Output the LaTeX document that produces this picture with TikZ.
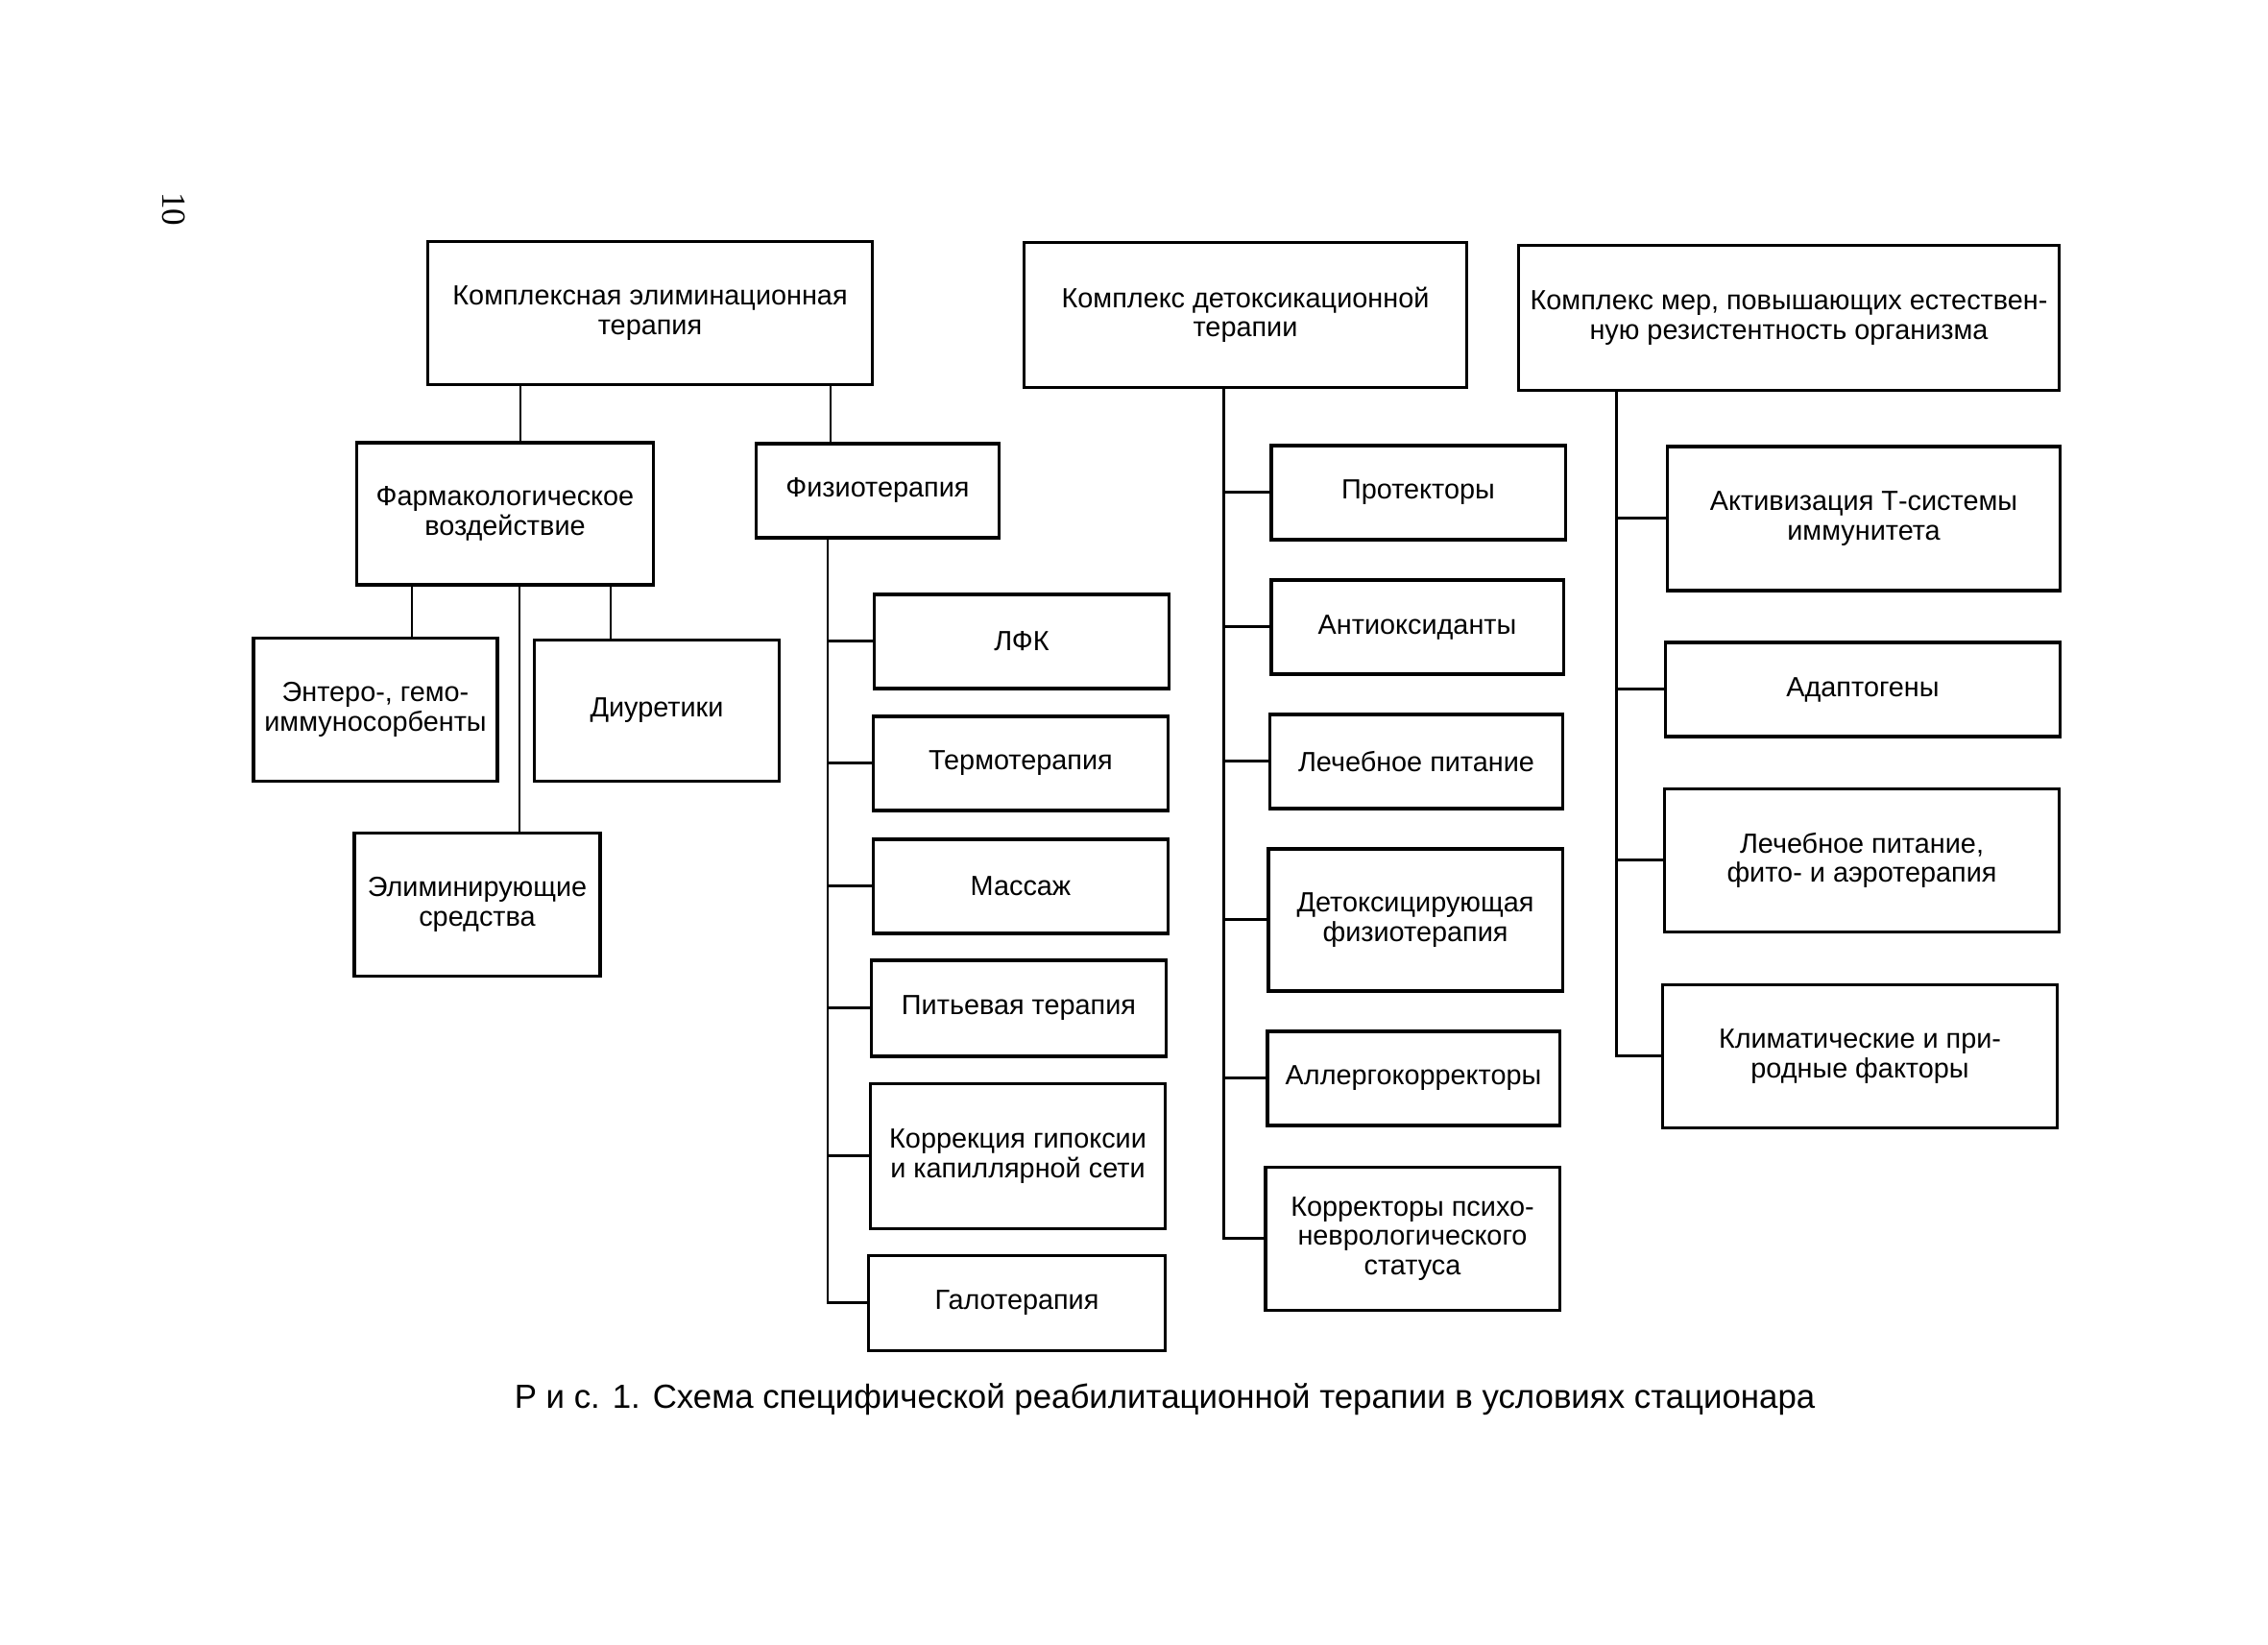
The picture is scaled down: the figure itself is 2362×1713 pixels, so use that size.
\documentclass[tikz,border=0pt]{standalone}
\usepackage{fontspec}
\setmainfont{Liberation Sans}
\newfontfamily\pagefont{Liberation Serif}
\tikzset{
  box/.style={draw, line width=0.9pt, align=center, inner sep=1pt, font=\fontsize{8.2}{8.7}\selectfont},
  low/.style={box, minimum height=0.98cm},
  high/.style={box, minimum height=1.49cm},
  link/.style={line width=0.85pt}
}
\begin{document}
\begin{tikzpicture}[x=0.01cm, y=-0.01cm]
\useasboundingbox (0,0) rectangle (2362,1713);
\node[rotate=-90, font=\pagefont\fontsize{10}{12}\selectfont] (page) at (181,218) {10};

\node[high, minimum width=4.62cm] (elim) at (677,326) {Комплексная элиминационная\\терапия};
\node[high, minimum width=4.60cm, minimum height=1.51cm] (detox) at (1297,328) {Комплекс детоксикационной\\терапии};
\node[high, minimum width=5.63cm, minimum height=1.51cm] (rez) at (1863,331) {Комплекс мер, повышающих естествен-\\ную резистентность организма};

\node[high, minimum width=3.09cm, minimum height=1.48cm] (farm) at (526,535) {Фармакологическое\\воздействие};
\node[low, minimum width=2.53cm] (fizio) at (914,511) {Физиотерапия};
\node[high, minimum width=2.54cm] (entero) at (391,739) {Энтеро-, гемо-\\иммуносорбенты};
\node[high, minimum width=2.55cm, minimum height=1.47cm] (diur) at (684,740) {Диуретики};
\node[high, minimum width=2.56cm] (elimsr) at (497,942) {Элиминирующие\\средства};

\node[low, minimum width=3.06cm] (lfk) at (1064,668) {ЛФК};
\node[low, minimum width=3.07cm] (termo) at (1063,795) {Термотерапия};
\node[low, minimum width=3.06cm] (massazh) at (1063,923) {Массаж};
\node[low, minimum width=3.06cm, minimum height=1.0cm] (pitye) at (1061,1050) {Питьевая терапия};
\node[high, minimum width=3.06cm, minimum height=1.51cm] (korr) at (1060,1204) {Коррекция гипоксии\\и капиллярной сети};
\node[low, minimum width=3.08cm, minimum height=0.99cm] (galo) at (1059,1357) {Галотерапия};

\node[low, minimum width=3.06cm] (prot) at (1477,513) {Протекторы};
\node[low, minimum width=3.04cm] (antiox) at (1476,653) {Антиоксиданты};
\node[low, minimum width=3.05cm] (pitan) at (1475,793) {Лечебное питание};
\node[high, minimum width=3.06cm, minimum height=1.48cm] (detfiz) at (1474,958) {Детоксицирующая\\физиотерапия};
\node[low, minimum width=3.04cm] (allerg) at (1472,1123) {Аллергокорректоры};
\node[high, minimum width=3.06cm] (psycho) at (1471,1290) {Корректоры психо-\\неврологического\\статуса};

\node[high, minimum width=4.08cm, minimum height=1.50cm] (tsys) at (1941,540) {Активизация Т-системы\\иммунитета};
\node[low, minimum width=4.10cm] (adapt) at (1940,718) {Адаптогены};
\node[high, minimum width=4.10cm] (fito) at (1939,896) {Лечебное питание,\\фито- и аэротерапия};
\node[high, minimum width=4.10cm] (klimat) at (1937,1100) {Климатические и при-\\родные факторы};

\node[font=\fontsize{9.9}{12}\selectfont] (caption) at (1213,1457) {Р и с. 1. Схема специфической реабилитационной терапии в условиях стационара};

\draw[link] ([shift={(16,0)}]farm.north) -- ([shift={(16,0)}]farm.north |- elim.south);
\draw[link] ([shift={(-49,0)}]fizio.north) -- ([shift={(-49,0)}]fizio.north |- elim.south);
\draw[link] ([shift={(38,0)}]entero.north) -- ([shift={(38,0)}]entero.north |- farm.south);
\draw[link] ([shift={(-48,0)}]diur.north) -- ([shift={(-48,0)}]diur.north |- farm.south);
\draw[link] ([shift={(44,0)}]elimsr.north) -- ([shift={(44,0)}]elimsr.north |- farm.south);

\coordinate (fs) at ([shift={(-52,0)}]fizio.south);
\draw[link] (fs) |- (galo.west);
\foreach \n in {lfk,termo,massazh,pitye,korr}
  \draw[link] (\n.west) -- (\n.west -| fs);

\coordinate (ds) at ([shift={(-23,0)}]detox.south);
\draw[link] (ds) |- (psycho.west);
\foreach \n in {prot,antiox,pitan,detfiz,allerg}
  \draw[link] (\n.west) -- (\n.west -| ds);

\coordinate (rs) at ([shift={(104,0)}]rez.south west);
\draw[link] (rs) |- (klimat.west);
\foreach \n in {tsys,adapt,fito}
  \draw[link] (\n.west) -- (\n.west -| rs);
\end{tikzpicture}
\end{document}
